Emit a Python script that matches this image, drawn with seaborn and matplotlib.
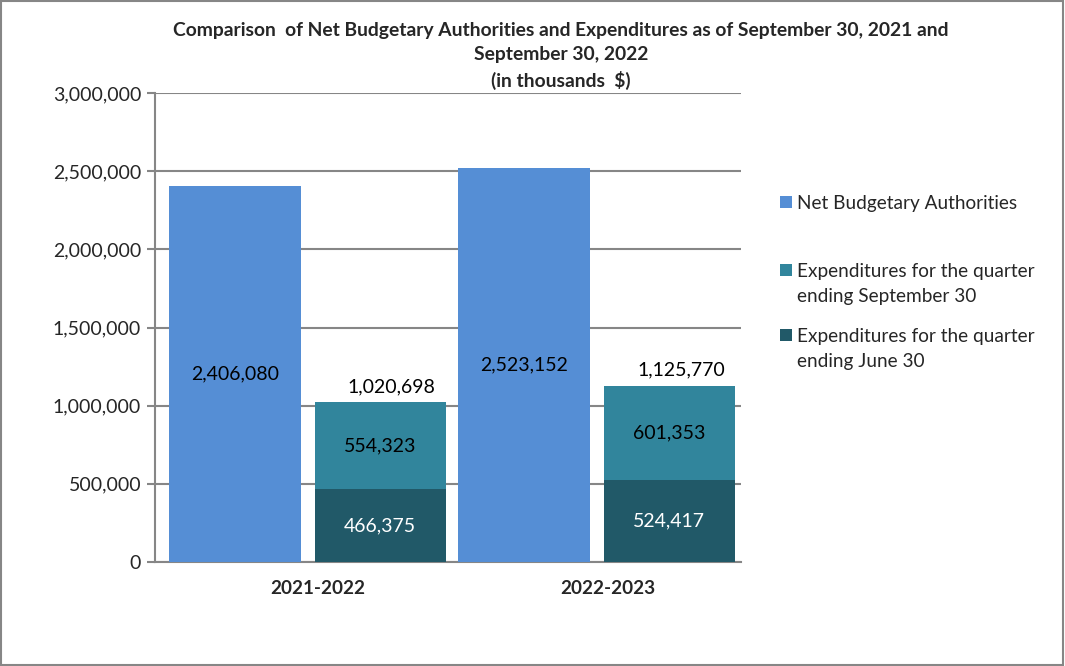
import matplotlib
matplotlib.use("Agg")
import matplotlib.pyplot as plt
import seaborn as sns
from matplotlib.patches import Rectangle

years = ["2021-2022", "2022-2023"]
authorities = [2406080, 2523152]
exp_september = [554323, 601353]
exp_june = [466375, 524417]

series_names = ["Net Budgetary Authorities",
                "Expenditures for the quarter\nending September 30",
                "Expenditures for the quarter\nending June 30"]
colors = ["#558ED5", "#31859C", "#215968"]

sns.set_style("white")
plt.rcParams["font.family"] = ["Lato", "DejaVu Sans"]

fig = plt.figure(figsize=(10.65, 6.66), dpi=100)
ax = fig.add_axes([155 / 1065, 1 - 562 / 666, 586 / 1065, 469 / 666])

totals = [j + s for j, s in zip(exp_june, exp_september)]
pos = [0, 0.987]
left_x = [p - 0.228 for p in pos]
right_x = [p + 0.268 for p in pos]

bar_kw = dict(native_scale=True, saturation=1, ax=ax, linewidth=0, edgecolor="none")
sns.barplot(x=left_x, y=authorities, width=0.457, color=colors[0], zorder=3, **bar_kw)
sns.barplot(x=right_x, y=totals, width=0.453, color=colors[1], zorder=3, **bar_kw)
sns.barplot(x=right_x, y=exp_june, width=0.453, color=colors[2], zorder=4, **bar_kw)

fs = 14
for x, v in zip(left_x, authorities):
    ax.text(x, v / 2, f"{v:,}", ha="center", va="center", fontsize=fs, color="black", zorder=5)
for x, j, s, t in zip(right_x, exp_june, exp_september, totals):
    ax.text(x, j / 2, f"{j:,}", ha="center", va="center", fontsize=fs, color="white", zorder=5)
    ax.text(x, j + s / 2, f"{s:,}", ha="center", va="center", fontsize=fs, color="black", zorder=5)
    ax.text(x + 0.04, t + 100000, f"{t:,}", ha="center", va="center", fontsize=fs, color="black", zorder=5)

ax.set_xlim(-0.5, 1.5)
ax.set_ylim(0, 3000000)
ax.set_yticks(range(0, 3000001, 500000))
ax.set_yticklabels([f"{v:,}" for v in range(0, 3000001, 500000)], fontsize=fs)
ax.set_xticks([p + 0.057 for p in pos])
ax.set_xticklabels(years, fontsize=13.6, fontweight="bold")
ax.tick_params(axis="x", length=0, pad=13)
ax.tick_params(axis="y", direction="out", length=6, color="#868686", width=1.5, left=True, pad=4)
ax.yaxis.grid(True, color="#868686", linewidth=1.5, zorder=0)
ax.set_axisbelow(True)
for side in ["top", "right"]:
    ax.spines[side].set_visible(False)
for side in ["left", "bottom"]:
    ax.spines[side].set_color("#868686")
    ax.spines[side].set_linewidth(1.5)
ax.set_xlabel("")
ax.set_ylabel("")

fig.text(561 / 1065, 1 - 56 / 666,
         "Comparison  of Net Budgetary Authorities and Expenditures as of September 30, 2021 and\n"
         "September 30, 2022\n(in thousands  $)",
         ha="center", va="center", fontsize=13.9, fontweight="bold", linespacing=1.5)

# legend entries, spaced like the original
legend_y = [202, 270, 335]
for name, c, y in zip(series_names, colors, legend_y):
    fig.add_artist(Rectangle((780 / 1065, 1 - (y + 6) / 666), 12 / 1065, 12 / 666,
                             transform=fig.transFigure, facecolor=c, edgecolor="none"))
    fig.text(797 / 1065, 1 - (y - 7) / 666, name, ha="left", va="top",
             fontsize=13.7, linespacing=1.55)

fig.add_artist(Rectangle((0.001, 0.001), 0.997, 0.997, transform=fig.transFigure,
                         fill=False, edgecolor="#868686", linewidth=1.5))

fig.savefig("out.png", dpi=100)
